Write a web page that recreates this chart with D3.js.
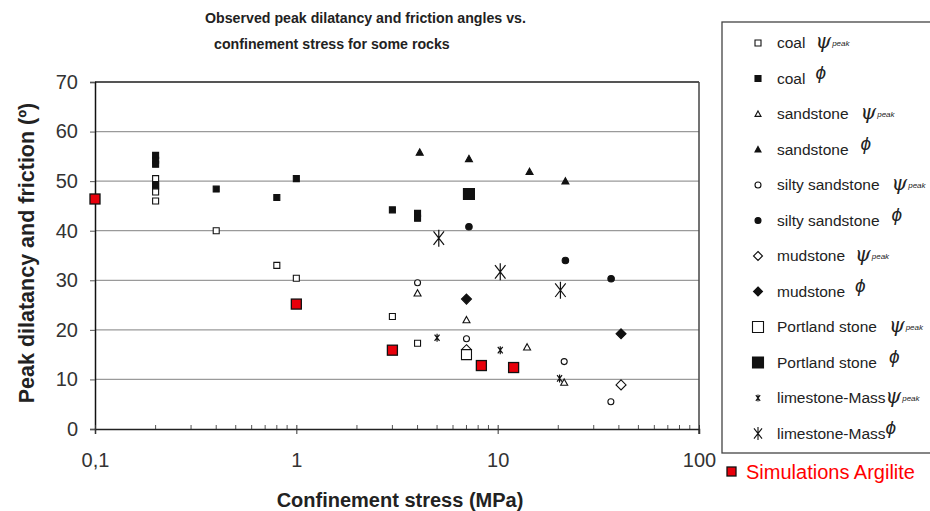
<!DOCTYPE html>
<html><head><meta charset="utf-8">
<script src="https://cdn.jsdelivr.net/npm/d3@7"></script>
<style>body{margin:0;background:#fff}svg{display:block}text{font-family:"Liberation Sans",Arial,sans-serif}</style>
</head><body><svg id="c" width="930" height="511"></svg>
<script>
// ---- data (confinement stress MPa, angle deg) ----
const coalPsi = [[0.2,50.5],[0.2,49],[0.2,47.8],[0.2,46],[0.4,40],[0.8,33],[1,30.4],[3,22.7],[4,17.3]];
const coalPhi = [[0.2,55.2],[0.2,54.2],[0.2,53.4],[0.2,49.2],[0.4,48.4],[0.8,46.7],[1,50.5],[3,44.2],[4,43.5],[4,42.5]];
const sandPsi = [[4,27.4],[7,22],[14,16.5],[21.4,9.4]];
const sandPhi = [[4.1,55.8],[7.2,54.5],[14.4,51.9],[21.7,50]];
const siltyPsi = [[4,29.5],[7,18.2],[21.4,13.6],[36.5,5.5]];
const siltyPhi = [[7.2,40.8],[21.7,34],[36.6,30.3]];
const mudPsi = [[7,16],[41,8.9]];
const mudPhi = [[7,26.2],[41,19.2]];
const portPsi = [[7,15]];
const portPhi = [[7.2,47.4]];
const limePsi = [[5,18.4],[10.3,15.9],[20.3,10.2]];
const limePhi = [[5.1,38.5],[10.3,31.7],[20.5,28]];
const simArgilite = [[0.1,46.4],[1,25.2],[3,15.9],[8.3,12.8],[12,12.4]];

const xTicks = [0.1,1,10,100];
const xTickLabels = ["0,1","1","10","100"];
const yTicks = [0,10,20,30,40,50,60,70];

const titleLines = ["Observed peak dilatancy and friction angles vs.","confinement stress for some rocks"];
const xTitle = "Confinement stress (MPa)";
const yTitle = "Peak dilatancy and friction (º)";
const legendNames = ["coal","coal","sandstone","sandstone","silty sandstone","silty sandstone","mudstone","mudstone","Portland stone","Portland stone","limestone-Mass","limestone-Mass"];
const legendKinds = ["psi","phi","psi","phi","psi","phi","psi","phi","psi","phi","psi","phi"];
const simLabel = "Simulations Argilite";

// ---- styles ----
const series = [
  {d:coalPsi, shape:"square", s:6, fill:"#fff"},
  {d:coalPhi, shape:"square", s:6, fill:"#111"},
  {d:sandPsi, shape:"triangle", s:7, fill:"#fff"},
  {d:sandPhi, shape:"triangle", s:7, fill:"#111"},
  {d:siltyPsi, shape:"circle", s:6, fill:"#fff"},
  {d:siltyPhi, shape:"circle", s:6.5, fill:"#111"},
  {d:mudPsi, shape:"diamond", s:10, fill:"#fff"},
  {d:mudPhi, shape:"diamond", s:10, fill:"#111"},
  {d:portPsi, shape:"square", s:10, fill:"#fff"},
  {d:portPhi, shape:"square", s:11, fill:"#111"},
  {d:limePsi, shape:"star", s:8, fill:"none"},
  {d:limePhi, shape:"star", s:17, fill:"none"}
];

function shapePath(t, s){
  const h=s/2;
  if(t==="square") return `M${-h},${-h}H${h}V${h}H${-h}Z`;
  if(t==="triangle") return `M0,${-h}L${h},${h*0.8}L${-h},${h*0.8}Z`;
  if(t==="circle") return `M${h},0A${h},${h} 0 1 1 ${-h},0A${h},${h} 0 1 1 ${h},0Z`;
  if(t==="diamond") return `M0,${-h}L${h},0L0,${h}L${-h},0Z`;
  if(t==="star"){ const a=h*0.62; return `M0,${-h}V${h}M${-a},${-h*0.8}L${a},${h*0.8}M${a},${-h*0.8}L${-a},${h*0.8}`; }
}

const svg = d3.select("#c");
const x = d3.scaleLog().domain([0.1,100]).range([95,699]);
const y = d3.scaleLinear().domain([0,70]).range([429,82]);

// gridlines
svg.append("g").selectAll("line").data(yTicks.filter(v=>v>0)).join("line")
  .attr("x1",x(0.1)).attr("x2",x(100)).attr("y1",d=>y(d)).attr("y2",d=>y(d))
  .attr("stroke",d=>d===70?"#555":"#9a9a9a").attr("stroke-width",d=>d===70?2:1.2);
// right border
svg.append("line").attr("x1",x(100)).attr("x2",x(100)).attr("y1",y(70)).attr("y2",y(0)+5)
  .attr("stroke","#444").attr("stroke-width",1.5);

// y axis
const yAxis = svg.append("g").attr("transform",`translate(${x(0.1)},0)`)
  .call(d3.axisLeft(y).tickValues(yTicks).tickSize(5).tickPadding(12));
yAxis.select(".domain").attr("stroke","#111").attr("stroke-width",1.5);
yAxis.selectAll(".tick line").attr("stroke","#555");
yAxis.selectAll("text").attr("font-size",20).attr("fill","#333");

// x axis
const minor = [];
for(let e=-1;e<2;e++) for(let k=2;k<=9;k++) minor.push(k*Math.pow(10,e));
svg.append("g").selectAll("line").data(minor).join("line")
  .attr("x1",d=>x(d)).attr("x2",d=>x(d)).attr("y1",y(0)).attr("y2",y(0)-4)
  .attr("stroke","#555");
const xAxis = svg.append("g").attr("transform",`translate(0,${y(0)})`)
  .call(d3.axisBottom(x).tickValues(xTicks).tickFormat((d,i)=>xTickLabels[i]).tickSize(5).tickPadding(19));
xAxis.select(".domain").attr("stroke","#222").attr("stroke-width",1.5);
xAxis.selectAll(".tick line").attr("stroke","#333").attr("y1",-4);
xAxis.selectAll("text").attr("font-size",20).attr("fill","#333");

// points
series.forEach(sr=>{
  svg.append("g").selectAll("path").data(sr.d).join("path")
    .attr("transform",d=>`translate(${x(d[0])},${y(d[1])})`)
    .attr("d",shapePath(sr.shape,sr.s))
    .attr("fill",sr.fill).attr("stroke","#111").attr("stroke-width",sr.shape==="star"?1.2:1.1);
});
svg.append("g").selectAll("rect").data(simArgilite).join("rect")
  .attr("x",d=>x(d[0])-5).attr("y",d=>y(d[1])-5).attr("width",10).attr("height",10)
  .attr("fill","#e8000b").attr("stroke","#111").attr("stroke-width",1.3);

// titles
svg.append("g").selectAll("text").data(titleLines).join("text")
  .attr("x",(d,i)=>i?214:205).attr("y",(d,i)=>23+i*26)
  .attr("font-size",14.2).attr("font-weight","bold").attr("fill","#222").text(d=>d);
svg.append("text").attr("x",400).attr("y",507).attr("text-anchor","middle")
  .attr("font-size",20).attr("font-weight","bold").attr("fill","#222").text(xTitle);
svg.append("text").attr("transform","translate(34,253) rotate(-90)").attr("text-anchor","middle")
  .attr("font-size",21.5).attr("font-weight","bold").attr("fill","#222").text(yTitle);

// legend
svg.append("rect").attr("x",722).attr("y",22).attr("width",230).attr("height",431)
  .attr("fill","#fff").attr("stroke","#444").attr("stroke-width",1.3);
const lg = svg.append("g");
legendNames.forEach((nm,i)=>{
  const yy = 43 + i*35.5;
  const sr = series[i];
  const ls = sr.shape==="star" ? (i===10?7:13) : (sr.shape==="diamond"?9:(sr.s>=10?11:6));
  lg.append("path").attr("transform",`translate(758,${yy})`).attr("d",shapePath(sr.shape,ls))
    .attr("fill",sr.fill).attr("stroke","#111").attr("stroke-width",1.1);
  const t = lg.append("text").attr("x",777).attr("y",yy+5).attr("font-size",15.5).attr("fill","#222").text(nm);
  const w = t.node().getComputedTextLength();
  const gap = i===10||i===11 ? 0 : (i===0||i===1||i===6||i===7?10:12);
  if(legendKinds[i]==="psi"){
    const g2 = lg.append("text").attr("x",777+w+gap).attr("y",yy+5).attr("fill","#222");
    g2.append("tspan").attr("font-size",20).attr("font-style","italic").attr("font-family","DejaVu Serif, serif").text("ψ");
    g2.append("tspan").attr("font-size",8).attr("font-style","italic").attr("dx",1).attr("dy",-2).text("peak");
  } else {
    lg.append("text").attr("x",777+w+gap).attr("y",yy).attr("font-size",19).attr("font-style","italic")
      .attr("font-family","DejaVu Serif, serif").attr("fill","#222").text("ϕ");
  }
});
svg.append("rect").attr("x",727).attr("y",467).attr("width",9).attr("height",9)
  .attr("fill","#e8000b").attr("stroke","#111").attr("stroke-width",1.3);
svg.append("text").attr("x",746).attr("y",479).attr("font-size",20).attr("fill","#f00").text(simLabel);
</script></body></html>
